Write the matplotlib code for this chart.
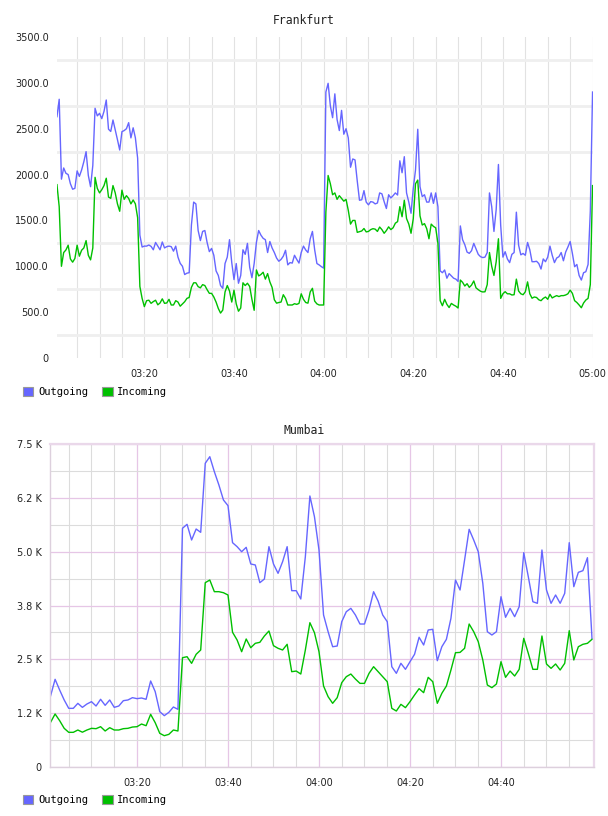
import numpy as np
import matplotlib
matplotlib.use("Agg")
import matplotlib.pyplot as plt
from matplotlib.patches import Patch

# ---------------- data ----------------
series_names = ["Outgoing", "Incoming"]
series_colors = ["#6666ff", "#00c000"]

# Frankfurt: samples every 30 s, starting 03:00:30 (minutes after 03:00)
fra_minutes = np.arange(240) * 0.5 + 0.5
fra_out = [
    2631, 2821, 1950, 2072, 2014, 2000, 1900, 1840, 1850, 2040,
    1980, 2050, 2141, 2250, 1990, 1868, 2100, 2723, 2640, 2668,
    2610, 2690, 2813, 2495, 2470, 2595, 2490, 2380, 2268, 2468,
    2480, 2500, 2566, 2400, 2510, 2400, 2180, 1340, 1210, 1220,
    1220, 1232, 1217, 1180, 1260, 1220, 1180, 1265, 1200, 1214,
    1220, 1214, 1165, 1220, 1100, 1032, 1000, 910, 925, 930,
    1450, 1700, 1680, 1390, 1280, 1380, 1390, 1260, 1160, 1195,
    1120, 950, 900, 790, 760, 1030, 1100, 1290, 1040, 855,
    1030, 815, 900, 1180, 1130, 1250, 990, 875, 1030, 1260,
    1390, 1340, 1305, 1290, 1150, 1270, 1200, 1150, 1090, 1055,
    1075, 1110, 1175, 1015, 1040, 1035, 1120, 1075, 1035, 1150,
    1220, 1178, 1150, 1300, 1380, 1180, 1030, 1015, 996, 980,
    2900, 2995, 2750, 2620, 2880, 2600, 2480, 2700, 2440, 2500,
    2400, 2080, 2170, 2160, 1930, 1720, 1725, 1825, 1700, 1670,
    1705, 1700, 1680, 1690, 1800, 1790, 1705, 1630, 1780, 1745,
    1770, 1800, 1777, 2150, 2020, 2195, 1800, 1700, 1578, 1850,
    2050, 2494, 1868, 1760, 1780, 1700, 1700, 1800, 1686, 1800,
    1650, 950, 930, 960, 870, 920, 895, 870, 860, 835,
    1440, 1290, 1235, 1155, 1141, 1170, 1250, 1190, 1130, 1105,
    1095, 1100, 1150, 1800, 1650, 1380, 1620, 2110, 1450, 1100,
    1159, 1080, 1040, 1130, 1150, 1590, 1230, 1125, 1140, 1120,
    1260, 1180, 1050, 1050, 1055, 1030, 970, 1080, 1050, 1100,
    1220, 1120, 1040, 1090, 1105, 1150, 1060, 1155, 1210, 1270,
    1140, 995, 1020, 900, 850, 930, 941, 1020, 1600, 2900,
]
fra_in = [
    1890, 1650, 1000, 1150, 1178, 1230, 1080, 1045, 1085, 1230,
    1110, 1175, 1200, 1280, 1120, 1070, 1200, 1970, 1850, 1800,
    1835, 1880, 1960, 1755, 1741, 1880, 1800, 1680, 1600, 1830,
    1730, 1770, 1740, 1680, 1723, 1680, 1530, 780, 650, 560,
    625, 630, 596, 615, 630, 580, 600, 645, 596, 600,
    640, 578, 578, 625, 610, 565, 590, 614, 650, 660,
    770, 820, 820, 778, 765, 800, 790, 745, 705, 705,
    665, 610, 540, 490, 523, 720, 790, 730, 610, 740,
    590, 510, 545, 820, 790, 815, 780, 640, 520, 960,
    895, 910, 935, 860, 920, 830, 770, 635, 598, 605,
    610, 690, 650, 578, 578, 578, 592, 585, 595, 700,
    640, 605, 598, 720, 760, 620, 590, 578, 578, 578,
    1590, 1990, 1900, 1780, 1800, 1730, 1770, 1740, 1710, 1730,
    1610, 1460, 1500, 1500, 1370, 1377, 1385, 1412, 1375, 1380,
    1400, 1410, 1405, 1380, 1428, 1400, 1360, 1390, 1430, 1400,
    1420, 1470, 1487, 1650, 1540, 1720, 1520, 1460, 1360, 1520,
    1900, 1940, 1550, 1450, 1465, 1410, 1300, 1460, 1435, 1420,
    1250, 625, 570, 640, 585, 550, 595, 578, 565, 545,
    850, 825, 785, 810, 770, 795, 840, 765, 745, 728,
    720, 722, 800, 1150, 1000, 900, 1050, 1300, 650, 700,
    723, 700, 700, 687, 690, 860, 730, 700, 690, 722,
    830, 700, 652, 665, 660, 635, 625, 650, 665, 640,
    695, 655, 669, 680, 670, 680, 680, 687, 700, 740,
    705, 625, 605, 578, 548, 600, 632, 650, 800, 1880,
]

# Mumbai: samples every minute, 03:01 .. 05:00
mum_minutes = np.arange(1, 121)
mum_out = [
    1649, 2036, 1788, 1556, 1362, 1362, 1478, 1385, 1463, 1517,
    1416, 1572, 1432, 1556, 1385, 1416, 1540, 1556, 1610, 1587,
    1602, 1572, 1997, 1750, 1285, 1192, 1269, 1393, 1339, 5543,
    5635, 5271, 5526, 5449, 7052, 7205, 6857, 6548, 6200, 6068,
    5209, 5116, 4999, 5101, 4714, 4691, 4280, 4365, 5116, 4714,
    4497, 4767, 5116, 4094, 4094, 3901, 4883, 6293, 5812, 5039,
    3530, 3142, 2793, 2809, 3374, 3606, 3684, 3530, 3320, 3320,
    3645, 4070, 3850, 3530, 3374, 2329, 2175, 2408, 2268, 2445,
    2617, 3012, 2833, 3181, 3197, 2468, 2793, 2965, 3453, 4342,
    4110, 4807, 5519, 5271, 4999, 4265, 3142, 3065, 3142, 3954,
    3476, 3684, 3490, 3722, 4976, 4419, 3838, 3801, 5039, 4110,
    3801, 3994, 3801, 4032, 5209, 4187, 4520, 4559, 4860, 2988,
]
mum_in = [
    1037, 1231, 1076, 898, 805, 805, 859, 808, 859, 898,
    890, 936, 836, 913, 859, 859, 890, 898, 928, 936,
    998, 959, 1223, 1029, 782, 727, 758, 859, 836, 2538,
    2561, 2407, 2617, 2717, 4280, 4342, 4071, 4071, 4047, 3994,
    3128, 2949, 2677, 2972, 2770, 2872, 2895, 3042, 3158, 2817,
    2756, 2717, 2849, 2213, 2228, 2159, 2717, 3351, 3119, 2677,
    1881, 1633, 1479, 1610, 1958, 2097, 2159, 2043, 1942, 1942,
    2175, 2329, 2213, 2097, 1981, 1362, 1300, 1455, 1378, 1517,
    1672, 1819, 1726, 2082, 1981, 1479, 1711, 1881, 2252, 2654,
    2661, 2756, 3320, 3142, 2910, 2485, 1904, 1842, 1927, 2445,
    2082, 2228, 2113, 2268, 2988, 2639, 2268, 2268, 3042, 2392,
    2291, 2392, 2252, 2407, 3165, 2485, 2793, 2849, 2872, 2965,
]

fra_xticks = [20, 40, 60, 80, 100, 120]
fra_xlabels = ["03:20", "03:40", "04:00", "04:20", "04:40", "05:00"]
fra_yticks = [0, 500, 1000, 1500, 2000, 2500, 3000, 3500]
fra_ylabels = ["0", "500.0", "1000.0", "1500.0", "2000.0", "2500.0", "3000.0", "3500.0"]

mum_xticks = [20, 40, 60, 80, 100]
mum_xlabels = ["03:20", "03:40", "04:00", "04:20", "04:40"]
mum_yticks = [0, 1250, 2500, 3750, 5000, 6250, 7500]
mum_ylabels = ["0", "1.2 K", "2.5 K", "3.8 K", "5.0 K", "6.2 K", "7.5 K"]

# ---------------- figure ----------------
W, H = 608, 816
fig = plt.figure(figsize=(W / 100, H / 100), dpi=100)

def frac(l, t, r, b):
    return [l / W, 1 - b / H, (r - l) / W, (b - t) / H]

tick_font = dict(family="DejaVu Sans", size=7)
mono = "DejaVu Sans Mono"

def legend(ax, y_px):
    handles = [Patch(facecolor=c, edgecolor="#999999", linewidth=0.8) for c in series_colors]
    ax.legend(handles, series_names, loc="center left",
              bbox_to_anchor=(23 / W, 1 - y_px / H), bbox_transform=fig.transFigure,
              ncol=2, frameon=False, borderpad=0, borderaxespad=0,
              handlelength=1.0, handleheight=1.0, handletextpad=0.45,
              columnspacing=1.35, prop=dict(family=mono, size=7.5))

# ---- Frankfurt ----
ax1 = fig.add_axes(frac(57, 37, 593, 358))
ax1.plot(fra_minutes, fra_out, color=series_colors[0], lw=1.0)
ax1.plot(fra_minutes, fra_in, color=series_colors[1], lw=1.0)
ax1.set_xlim(0.51, 120.1)
ax1.set_ylim(0, 3500)
ax1.set_xticks(fra_xticks)
ax1.set_xticklabels(fra_xlabels, **tick_font)
ax1.set_xticks(np.arange(5, 121, 5), minor=True)
ax1.set_yticks(fra_yticks)
ax1.set_yticklabels(fra_ylabels, **tick_font)
ax1.set_yticks(np.arange(250, 3500, 500), minor=True)
ax1.tick_params(which="both", length=0, colors="#222222")
ax1.tick_params(axis="y", pad=6)
ax1.tick_params(axis="x", pad=8)
ax1.grid(True, axis="x", which="both", color="#e2e2e2", lw=0.8)
ax1.grid(True, axis="y", which="minor", color="#efefef", lw=2.0)
ax1.grid(False, axis="y", which="major")
ax1.set_axisbelow(True)
for s in ax1.spines.values():
    s.set_visible(False)
fig.text(304 / W, 1 - 20 / H, "Frankfurt", ha="center", va="center",
         family=mono, size=8.3, color="#222222")
legend(ax1, 392)

# ---- Mumbai ----
ax2 = fig.add_axes(frac(50, 444, 594, 767))
ax2.plot(mum_minutes, mum_out, color=series_colors[0], lw=1.0)
ax2.plot(mum_minutes, mum_in, color=series_colors[1], lw=1.0)
ax2.set_xlim(0.88, 120.44)
ax2.set_ylim(0, 7500)
ax2.set_xticks(mum_xticks)
ax2.set_xticklabels(mum_xlabels, **tick_font)
ax2.set_xticks([m for m in range(5, 121, 5) if m % 20 != 0], minor=True)
ax2.set_yticks(mum_yticks)
ax2.set_yticklabels(mum_ylabels, **tick_font)
ax2.set_yticks(np.arange(625, 7500, 1250), minor=True)
ax2.tick_params(which="both", length=0, colors="#222222")
ax2.tick_params(axis="y", pad=6)
ax2.tick_params(axis="x", pad=8)
ax2.grid(True, which="major", color="#e6c6e6", lw=0.9)
ax2.grid(True, which="minor", color="#dcdcdc", lw=0.8)
ax2.set_axisbelow(True)
for name, s in ax2.spines.items():
    s.set_color("#ead8ea" if name in ("top", "right") else "#ddd0dd")
    s.set_linewidth(1.6 if name in ("top", "right") else 1.0)
fig.text(304 / W, 1 - 430 / H, "Mumbai", ha="center", va="center",
         family=mono, size=8.3, color="#222222")
legend(ax2, 800)

fig.savefig("out.png", dpi=100)
